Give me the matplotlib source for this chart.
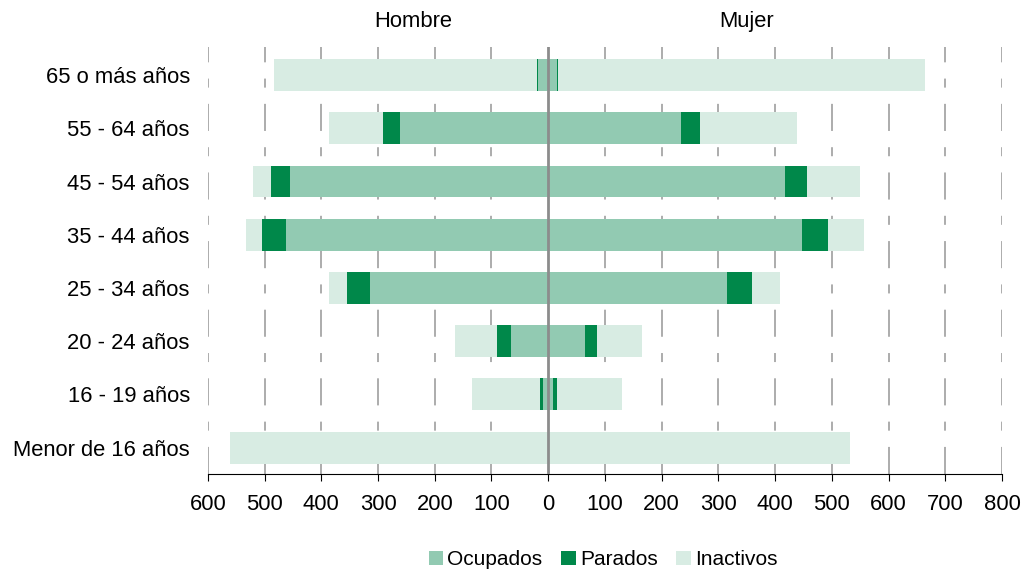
import matplotlib.pyplot as plt
import numpy as np

plt.rcParams['font.family'] = ['Liberation Sans', 'DejaVu Sans']

grupos = ["Menor de 16 años", "16 - 19 años", "20 - 24 años", "25 - 34 años",
          "35 - 44 años", "45 - 54 años", "55 - 64 años", "65 o más años"]

# Hombre
h_ocupados = [0, 9, 65, 315, 463, 456, 262, 18]
h_parados = [0, 5, 25, 39, 42, 33, 30, 1]
h_inactivos = [561, 121, 74, 33, 28, 32, 94, 465]

# Mujer
m_ocupados = [0, 9, 65, 315, 447, 417, 234, 16]
m_parados = [0, 7, 21, 44, 46, 39, 34, 1]
m_inactivos = [532, 114, 79, 49, 63, 93, 171, 647]

tick_vals = [-600, -500, -400, -300, -200, -100, 0, 100, 200, 300, 400, 500, 600, 700, 800]

c_ocu = "#92cab2"
c_par = "#00884a"
c_ina = "#d8ece3"

fs = 15.8

fig = plt.figure(figsize=(10.24, 5.72), dpi=100)
ax = fig.add_axes([0.203, 0.171, 0.7755, 0.747])

y = np.arange(len(grupos))
h = 0.6

for ocu, par, ina, sign in [(h_ocupados, h_parados, h_inactivos, -1),
                            (m_ocupados, m_parados, m_inactivos, 1)]:
    ocu = np.array(ocu)
    par = np.array(par)
    ina = np.array(ina)
    ax.barh(y, sign * ocu, height=h, color=c_ocu, zorder=2,
            label="Ocupados" if sign < 0 else None)
    ax.barh(y, sign * par, left=sign * ocu, height=h, color=c_par, zorder=2,
            label="Parados" if sign < 0 else None)
    ax.barh(y, sign * ina, left=sign * (ocu + par), height=h, color=c_ina, zorder=2,
            label="Inactivos" if sign < 0 else None)

ax.set_xlim(-600, 800)
ax.set_ylim(-0.5, 7.53)
ax.set_xticks(tick_vals)
ax.set_xticklabels([str(abs(v)) for v in tick_vals])
ax.set_yticks(y)
ax.set_yticklabels(grupos)

for v in tick_vals:
    if v != 0:
        ax.axvline(v, color="#a6a6a6", lw=1.3, ls=(0, (15, 9, 5, 9)), zorder=1)
ax.axvline(0, color="#8c8c8c", lw=2, zorder=3)

for s in ["top", "left", "right"]:
    ax.spines[s].set_visible(False)
ax.spines["bottom"].set_color("black")
ax.tick_params(axis="y", length=0, labelsize=fs, pad=13)
ax.tick_params(axis="x", length=5, labelsize=fs, color="black", direction="out", pad=9)

ax.text(-238, 8.0, "Hombre", ha="center", va="center", fontsize=fs)
ax.text(350, 8.0, "Mujer", ha="center", va="center", fontsize=fs)

fig.legend(loc="center", bbox_to_anchor=(0.589, 0.021), ncol=3, frameon=False,
           fontsize=15, handlelength=0.7, handleheight=0.7, handletextpad=0.2,
           columnspacing=0.9, borderpad=0)

fig.savefig("out.png", dpi=100)
